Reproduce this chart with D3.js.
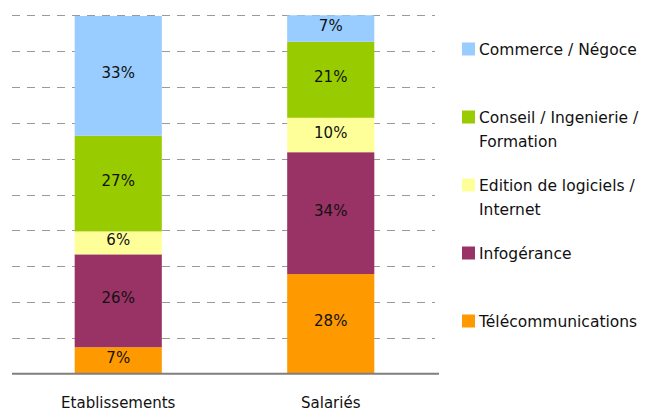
<!DOCTYPE html>
<html>
<head>
<meta charset="utf-8">
<script src="https://cdn.jsdelivr.net/npm/d3@7"></script>
<style>
  html, body { margin: 0; padding: 0; background: #fff; }
  svg { display: block; font-family: "DejaVu Sans", sans-serif; }
</style>
</head>
<body>
<svg id="chart" width="647" height="412"></svg>
<script>
// data
const categories = ["Etablissements", "Salariés"];
const seriesNames = ["Télécommunications", "Infogérance", "Edition de logiciels / Internet",
    "Conseil / Ingenierie / Formation", "Commerce / Négoce"]; // bottom to top
const telecom = [7.4, 27.8];
const infogerance = [25.9, 34.0];
const edition = [6.4, 9.6];
const conseil = [26.7, 21.2];
const commerce = [33.4, 7.4];
const seriesColors = ["#ff9900", "#993366", "#ffff99", "#99cc00", "#99ccff"];
const legendLines = [["Commerce / Négoce"], ["Conseil / Ingenierie /", "Formation"],
    ["Edition de logiciels /", "Internet"], ["Infogérance"], ["Télécommunications"]];
const gridTicks = [10, 20, 30, 40, 50, 60, 70, 80, 90, 100];

const seriesValues = [telecom, infogerance, edition, conseil, commerce];
const table = categories.map((c, i) => {
    const row = { cat: c };
    seriesNames.forEach((s, j) => row[s] = seriesValues[j][i]);
    return row;
});
const stacked = d3.stack().keys(seriesNames)(table);

const svg = d3.select("#chart");

// scales
const x = d3.scaleBand()
    .domain(categories)
    .range([12, 437])
    .paddingInner(0.59)
    .paddingOuter(0.295);
const y = d3.scaleLinear()
    .domain([0, 100])
    .range([373.7, 15.3]);
const color = d3.scaleOrdinal().domain(seriesNames).range(seriesColors);

// dashed gridlines
svg.append("g")
    .selectAll("line")
    .data(gridTicks)
    .join("line")
    .attr("x1", 12)
    .attr("x2", 435)
    .attr("y1", d => Math.round(y(d)) + 0.5)
    .attr("y2", d => Math.round(y(d)) + 0.5)
    .attr("stroke", "#9a9a9a")
    .attr("stroke-width", 1)
    .attr("stroke-dasharray", "8,7");

// bars
const layers = svg.append("g")
    .selectAll("g")
    .data(stacked)
    .join("g")
    .attr("fill", d => color(d.key));
layers.selectAll("rect")
    .data(d => d)
    .join("rect")
    .attr("x", d => x(d.data.cat))
    .attr("y", d => y(d[1]))
    .attr("width", x.bandwidth())
    .attr("height", d => y(d[0]) - y(d[1]));

// value labels
const labels = svg.append("g")
    .attr("font-size", 15)
    .attr("fill", "#111")
    .attr("text-anchor", "middle");
stacked.forEach(layer => {
    labels.selectAll(null)
        .data(layer)
        .join("text")
        .attr("x", d => x(d.data.cat) + x.bandwidth() / 2)
        .attr("y", d => (y(d[0]) + y(d[1])) / 2 + 2.5)
        .text(d => Math.round(d[1] - d[0]) + "%");
});

// x axis line
svg.append("line")
    .attr("x1", 12)
    .attr("x2", 439)
    .attr("y1", y(0))
    .attr("y2", y(0))
    .attr("stroke", "#7f7f7f")
    .attr("stroke-width", 2);

// category labels
svg.append("g")
    .selectAll("text")
    .data(categories)
    .join("text")
    .attr("x", d => x(d) + x.bandwidth() / 2)
    .attr("y", 408)
    .attr("text-anchor", "middle")
    .attr("font-size", 15)
    .attr("fill", "#111")
    .text(d => d);

// legend
const legend = svg.append("g")
    .selectAll("g")
    .data(legendLines)
    .join("g")
    .attr("transform", (d, i) => `translate(462,${49 + i * 68})`);
legend.append("rect")
    .attr("x", 0)
    .attr("y", -6.5)
    .attr("width", 13)
    .attr("height", 13)
    .attr("fill", (d, i) => seriesColors[seriesColors.length - 1 - i]);
legend.each(function (lines) {
    d3.select(this).selectAll("text")
        .data(lines)
        .join("text")
        .attr("x", 17)
        .attr("y", (d, k) => 5.5 + k * 24)
        .attr("font-size", 15.5)
        .attr("fill", "#111")
        .text(d => d);
});
</script>
</body>
</html>
